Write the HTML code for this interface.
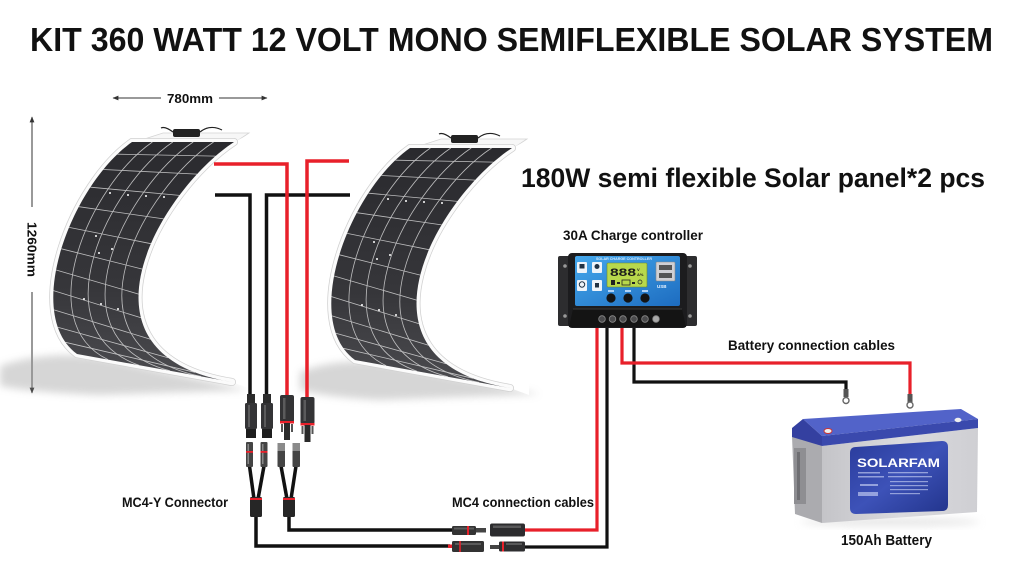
<!DOCTYPE html>
<html><head><meta charset="utf-8">
<style>
html,body{margin:0;padding:0;background:#fff;}
svg{display:block;}
text{font-family:"Liberation Sans","DejaVu Sans",sans-serif;font-weight:bold;fill:#111;}
</style></head>
<body>
<svg width="1024" height="576" viewBox="0 0 1024 576" xmlns="http://www.w3.org/2000/svg" xmlns:xlink="http://www.w3.org/1999/xlink">
<defs>
  <linearGradient id="cell" x1="0" y1="0" x2="0" y2="1">
    <stop offset="0" stop-color="#2a2a2e"/>
    <stop offset="0.6" stop-color="#36363a"/>
    <stop offset="1" stop-color="#4c4c50"/>
  </linearGradient>
  <linearGradient id="blue" x1="0" y1="0" x2="1" y2="1">
    <stop offset="0" stop-color="#45a8ec"/>
    <stop offset="1" stop-color="#1d6cc0"/>
  </linearGradient>
  <linearGradient id="lbl" x1="0" y1="0" x2="1" y2="1">
    <stop offset="0" stop-color="#2a3c9c"/>
    <stop offset="0.5" stop-color="#3d52b8"/>
    <stop offset="1" stop-color="#22348c"/>
  </linearGradient>
  <linearGradient id="body" x1="0" y1="0" x2="1" y2="0">
    <stop offset="0" stop-color="#c4c4c8"/>
    <stop offset="0.5" stop-color="#dadade"/>
    <stop offset="1" stop-color="#cfcfd3"/>
  </linearGradient>
  <filter id="blur" x="-20%" y="-50%" width="140%" height="200%"><feGaussianBlur stdDeviation="4"/></filter>
  <marker id="ah" viewBox="0 0 10 10" refX="9" refY="5" markerWidth="6" markerHeight="6" orient="auto-start-reverse">
    <path d="M0,1 L10,5 L0,9 Z" fill="#333"/>
  </marker>
  <g id="panel">
    <polygon points="163,133 249,133 234,143 132,143" fill="#f7f7f7" stroke="#d4d4d4" stroke-width="0.8"/>
    <path d="M234,142 C162,189 62,354 232,382 L251,389 L253,300 L250,134 Z" fill="#fff"/>
    <path d="M132,142 C72,184 22,314 77,354 L232,382 C62,354 162,189 234,142 Z" fill="none" stroke="#d0d0d0" stroke-width="8" stroke-linejoin="round"/>
    <path d="M132,142 C72,184 22,314 77,354 L232,382 C62,354 162,189 234,142 Z" fill="none" stroke="#fbfbfb" stroke-width="6.5" stroke-linejoin="round"/>
    <path d="M132,142 C72,184 22,314 77,354 L232,382 C62,354 162,189 234,142 Z" fill="url(#cell)"/>
    <g fill="none" stroke="#ececec" stroke-width="0.8" opacity="0.75">
      <path d="M152.4,142 C90,185 30,322 108,359.6"/>
      <path d="M172.8,142 C108,186 38,330 139,365.2"/>
      <path d="M193.2,142 C126,187 46,338 170,370.8"/>
      <path d="M213.6,142 C144,188 54,346 201,376.4"/>
      <path d="M117.3,154.2 L215.6,156.1"/>
      <path d="M103.3,169.5 L197.0,174.1"/>
      <path d="M90.4,187.2 L179.4,195.4"/>
      <path d="M78.8,206.7 L163.7,218.9"/>
      <path d="M69.1,227.4 L151.0,243.7"/>
      <path d="M61.4,248.8 L142.3,269.1"/>
      <path d="M56.1,270.0 L138.6,294.1"/>
      <path d="M53.5,290.6 L141.0,317.8"/>
      <path d="M54.0,309.9 L150.5,339.3"/>
      <path d="M57.8,327.3 L168.1,357.8"/>
      <path d="M65.4,342.3 L195.0,372.3"/>
    </g>
    <g fill="#fff">
      <circle cx="112" cy="249" r="1"/><circle cx="99" cy="253" r="1"/>
      <circle cx="84" cy="299" r="1"/><circle cx="101" cy="304" r="1"/>
      <circle cx="118" cy="309" r="1"/><circle cx="96" cy="236" r="1"/>
      <circle cx="110" cy="193" r="1"/><circle cx="128" cy="195" r="1"/>
      <circle cx="146" cy="196" r="1"/><circle cx="164" cy="197" r="1"/>
    </g>
    <path d="M173,132 q-8,-6 -12,-4" fill="none" stroke="#222" stroke-width="1.2"/>
    <path d="M200,132 q10,-8 22,-2" fill="none" stroke="#222" stroke-width="1.2"/>
    <rect x="173" y="129" width="27" height="8" rx="2" fill="#222"/>
  </g>
</defs>

<!-- Title -->
<text x="30" y="51" font-size="33" textLength="963" lengthAdjust="spacingAndGlyphs">KIT 360 WATT 12 VOLT MONO SEMIFLEXIBLE SOLAR SYSTEM</text>

<!-- dimension lines -->
<line x1="113" y1="98" x2="161" y2="98" stroke="#333" stroke-width="1" marker-start="url(#ah)"/>
<line x1="219" y1="98" x2="267" y2="98" stroke="#333" stroke-width="1" marker-end="url(#ah)"/>
<text x="167" y="103" font-size="12.5" textLength="46" lengthAdjust="spacingAndGlyphs">780mm</text>
<line x1="32" y1="117" x2="32" y2="207" stroke="#333" stroke-width="1" marker-start="url(#ah)"/>
<line x1="32" y1="292" x2="32" y2="393" stroke="#333" stroke-width="1" marker-end="url(#ah)"/>
<text transform="translate(27.5,222) rotate(90)" x="0" y="0" font-size="12.5" textLength="55" lengthAdjust="spacingAndGlyphs">1260mm</text>

<!-- shadows -->
<path d="M0,366 C40,352 90,352 130,364 L248,390 L100,395 C50,393 20,390 0,386 Z" fill="#9a9a9a" opacity="0.4" filter="url(#blur)"/>
<path d="M300,372 C330,360 370,358 410,368 L540,394 L380,400 C340,398 315,394 300,390 Z" fill="#9a9a9a" opacity="0.4" filter="url(#blur)"/>

<!-- panels -->
<use href="#panel" xlink:href="#panel"/>
<use href="#panel" xlink:href="#panel" transform="translate(278,6)"/>

<!-- top wires (black first) -->
<g fill="none" stroke-width="3.5" stroke-linejoin="miter">
  <path d="M215,195 H250 V396" stroke="#111"/>
  <path d="M350,195 H266.5 V396" stroke="#111"/>
  <path d="M214,164 H287 V396" stroke="#e8202a"/>
  <path d="M349,161 H307 V398" stroke="#e8202a"/>
</g>

<!-- top MC4 connectors -->
<g>
  <g transform="translate(251,0)">
    <rect x="-4" y="394" width="8" height="10" fill="#2b2b2b"/>
    <rect x="-6" y="403" width="12" height="26" rx="1.5" fill="#343436"/>
    <rect x="-3" y="405" width="2" height="22" fill="#777" opacity="0.6"/>
    <rect x="-5" y="429" width="10" height="9" fill="#1e1e1e"/>
  </g>
  <g transform="translate(267,0)">
    <rect x="-4" y="394" width="8" height="10" fill="#2b2b2b"/>
    <rect x="-6" y="403" width="12" height="26" rx="1.5" fill="#343436"/>
    <rect x="-3" y="405" width="2" height="22" fill="#777" opacity="0.6"/>
    <rect x="-5" y="429" width="10" height="9" fill="#1e1e1e"/>
  </g>
  <g transform="translate(287,0)">
    <rect x="-7" y="395" width="14" height="27" rx="2" fill="#333335"/>
    <rect x="-4" y="398" width="2.5" height="21" fill="#777" opacity="0.6"/>
    <rect x="-7" y="421" width="14" height="2.5" fill="#e8202a"/>
    <rect x="-3" y="423" width="6" height="17" fill="#2a2a2a"/>
    <rect x="-6" y="424" width="2" height="8" fill="#555"/>
    <rect x="4" y="424" width="2" height="8" fill="#555"/>
  </g>
  <g transform="translate(307.5,2)">
    <rect x="-7" y="395" width="14" height="27" rx="2" fill="#333335"/>
    <rect x="-4" y="398" width="2.5" height="21" fill="#777" opacity="0.6"/>
    <rect x="-7" y="421" width="14" height="2.5" fill="#e8202a"/>
    <rect x="-3" y="423" width="6" height="17" fill="#2a2a2a"/>
    <rect x="-6" y="424" width="2" height="8" fill="#555"/>
    <rect x="4" y="424" width="2" height="8" fill="#555"/>
  </g>
</g>

<!-- Y connector -->
<g>
  <g fill="none" stroke="#111" stroke-width="3.5">
    <path d="M249.5,466 L254,499"/>
    <path d="M264,466 L258,499"/>
    <path d="M281,466 L287,499"/>
    <path d="M296,466 L291,499"/>
    <path d="M256,515 V546 H450"/>
    <path d="M289,515 V530 H453"/>
  </g>
  <g>
    <rect x="246" y="442" width="7" height="25" rx="1" fill="#444"/>
    <rect x="247.5" y="444" width="1.5" height="20" fill="#888"/>
    <rect x="246" y="451" width="7" height="1.8" fill="#e8202a"/>
    <rect x="260.5" y="442" width="7" height="25" rx="1" fill="#444"/>
    <rect x="262" y="444" width="1.5" height="20" fill="#888"/>
    <rect x="260.5" y="451" width="7" height="1.8" fill="#e8202a"/>
    <rect x="277.5" y="443" width="7.5" height="24" rx="1" fill="#444"/>
    <rect x="277.5" y="443" width="7.5" height="8" fill="#8a8a8a"/>
    <rect x="292.5" y="443" width="7.5" height="24" rx="1" fill="#444"/>
    <rect x="292.5" y="443" width="7.5" height="8" fill="#8a8a8a"/>
    <rect x="250" y="497" width="12" height="20" rx="1.5" fill="#262626"/>
    <rect x="250" y="498" width="12" height="2" fill="#e8202a"/>
    <rect x="283" y="497" width="12" height="20" rx="1.5" fill="#262626"/>
    <rect x="283" y="498" width="12" height="2" fill="#e8202a"/>
  </g>
</g>

<!-- controller & battery wires -->
<g fill="none" stroke-width="3.2">
  <path d="M607,327 V547 H524" stroke="#111"/>
  <path d="M597,327 V530 H524" stroke="#e8202a"/>
  <path d="M634,326 V382 H846 V394" stroke="#111"/>
  <path d="M622,326 V363 H910 V398" stroke="#e8202a"/>
</g>
<!-- ring terminals -->
<g>
  <rect x="843.5" y="389" width="5" height="8" fill="#555"/>
  <circle cx="846" cy="400.5" r="3" fill="none" stroke="#666" stroke-width="1.4"/>
  <rect x="907.5" y="394" width="5" height="8" fill="#555"/>
  <circle cx="910" cy="405" r="3" fill="none" stroke="#666" stroke-width="1.4"/>
</g>

<!-- bottom MC4 connectors -->
<g>
  <rect x="448" y="544.5" width="5" height="3.5" fill="#e8202a"/>
  <rect x="452" y="526" width="24" height="9" rx="1.5" fill="#333"/>
  <rect x="454" y="527.5" width="20" height="2" fill="#777" opacity="0.6"/>
  <rect x="467" y="526" width="2" height="9" fill="#e8202a"/>
  <rect x="476" y="528" width="10" height="4.5" fill="#444"/>
  <rect x="490" y="523.5" width="35" height="13" rx="2" fill="#2c2c2e"/>
  <rect x="493" y="525.5" width="28" height="2.5" fill="#777" opacity="0.6"/>
  <rect x="452" y="541" width="32" height="11" rx="1.5" fill="#333"/>
  <rect x="455" y="543" width="26" height="2" fill="#777" opacity="0.6"/>
  <rect x="459" y="541" width="2" height="11" fill="#e8202a" opacity="0.8"/>
  <rect x="490" y="545" width="10" height="4" fill="#444"/>
  <rect x="499" y="541.5" width="26" height="10" rx="1.5" fill="#2e2e30"/>
  <rect x="502" y="541.5" width="2" height="10" fill="#e8202a"/>
  <rect x="506" y="543" width="16" height="2" fill="#777" opacity="0.6"/>
</g>

<!-- Charge controller -->
<g>
  <rect x="558" y="256" width="15" height="70" rx="2" fill="#2d2d2f"/>
  <rect x="682" y="256" width="15" height="70" rx="2" fill="#2d2d2f"/>
  <circle cx="565" cy="266" r="1.8" fill="#999"/>
  <circle cx="565" cy="316" r="1.8" fill="#999"/>
  <circle cx="690" cy="266" r="1.8" fill="#999"/>
  <circle cx="690" cy="316" r="1.8" fill="#999"/>
  <rect x="568" y="253" width="119" height="75" rx="4" fill="#1c1c1e"/>
  <rect x="575" y="256" width="105" height="50" rx="2" fill="url(#blue)"/>
  <text x="596" y="260" font-size="4" style="fill:#d8ecff" textLength="56" lengthAdjust="spacingAndGlyphs">SOLAR CHARGE CONTROLLER</text>
  <path d="M573,309 L682,309 L686,327 L569,327 Z" fill="#141414"/>
  <line x1="573" y1="309" x2="682" y2="309" stroke="#3a3a3a" stroke-width="1"/>
  <g fill="#4a4a4c" stroke="#8a8a8a" stroke-width="0.8">
    <circle cx="602" cy="319" r="3.3"/>
    <circle cx="612.5" cy="319" r="3.3"/>
    <circle cx="623" cy="319" r="3.3"/>
    <circle cx="634" cy="319" r="3.3"/>
    <circle cx="645" cy="319" r="3.3"/>
    <circle cx="656" cy="319" r="3.3" fill="#aaa"/>
  </g>
  <rect x="607" y="263" width="40" height="24" rx="1" fill="#b8d84c" stroke="#6d8a2a" stroke-width="0.6"/>
  <text x="610" y="276" font-size="11" style="fill:#1a1a1a" textLength="26" lengthAdjust="spacingAndGlyphs">888</text>
  <text x="637" y="271" font-size="4" style="fill:#1a1a1a">V</text>
  <text x="637" y="276" font-size="4" style="fill:#1a1a1a">A%</text>
  <rect x="611" y="280" width="4" height="5" fill="#222"/>
  <rect x="617" y="282" width="3" height="2" fill="#222"/>
  <rect x="622" y="280" width="8" height="5" fill="none" stroke="#222" stroke-width="0.8"/>
  <rect x="632" y="282" width="3" height="2" fill="#222"/>
  <circle cx="640" cy="282" r="2" fill="none" stroke="#222" stroke-width="0.7"/>
  <rect x="656" y="262" width="19" height="19" rx="1" fill="#d0d0d4" stroke="#888" stroke-width="0.6"/>
  <rect x="659" y="265" width="13" height="5" fill="#555"/>
  <rect x="659" y="273" width="13" height="5" fill="#555"/>
  <text x="657" y="288" font-size="4.5" style="fill:#e8f4ff">USB</text>
  <g>
    <rect x="577" y="262" width="10" height="11" rx="1" fill="#eef4fa"/>
    <rect x="579.5" y="264" width="5" height="4.5" fill="#234"/>
    <rect x="592" y="262" width="10" height="11" rx="1" fill="#eef4fa"/>
    <circle cx="597" cy="266.5" r="2.5" fill="#234"/>
    <rect x="577" y="280" width="10" height="11" rx="1" fill="#eef4fa"/>
    <circle cx="582" cy="284.5" r="2.7" fill="none" stroke="#234" stroke-width="1"/>
    <rect x="592" y="280" width="10" height="11" rx="1" fill="#eef4fa"/>
    <rect x="595" y="283" width="4" height="4.5" fill="#234"/>
  </g>
  <circle cx="611" cy="298" r="4.6" fill="#141414"/>
  <circle cx="628" cy="298" r="4.6" fill="#141414"/>
  <circle cx="645" cy="298" r="4.6" fill="#141414"/>
  <rect x="608" y="290" width="6" height="2" fill="#cfe6ff" opacity="0.8"/>
  <rect x="625" y="290" width="6" height="2" fill="#cfe6ff" opacity="0.8"/>
  <rect x="642" y="290" width="6" height="2" fill="#cfe6ff" opacity="0.8"/>
</g>

<!-- Battery -->
<g>
  <ellipse cx="890" cy="522" rx="90" ry="4" fill="#ccc" opacity="0.5" filter="url(#blur)"/>
  <polygon points="792,436 822,446 822,523 795,514" fill="#ababaf"/>
  <rect x="794" y="448" width="12" height="56" fill="#8e8e92"/>
  <rect x="797" y="452" width="3" height="48" fill="#6e6e72"/>
  <polygon points="822,446 978,428 977,512 822,523" fill="url(#body)"/>
  <polygon points="803,419 961,409 978,419 822,436" fill="#5263c9"/>
  <polygon points="822,436 978,419 978,428 822,446" fill="#3a49ad"/>
  <polygon points="792,428 803,419 822,436 822,446 792,437" fill="#3440a0"/>
  <ellipse cx="828" cy="431" rx="4" ry="2.5" fill="#eee" stroke="#c33" stroke-width="1"/>
  <ellipse cx="958" cy="420" rx="3.5" ry="2.2" fill="#eee"/>
  <path d="M856,447 L942,441 Q948,441 948,447 L948,505 Q948,511 942,511 L856,514 Q850,514 850,508 L850,453 Q850,447 856,447 Z" fill="url(#lbl)"/>
  <text x="857" y="467" font-size="11.5" style="fill:#fff" textLength="83" lengthAdjust="spacingAndGlyphs">SOLARFAM</text>
  <g fill="#dfe6ff" opacity="0.55">
    <rect x="858" y="472" width="22" height="1.5"/>
    <rect x="858" y="476" width="26" height="1.5"/>
    <rect x="860" y="484" width="18" height="2"/>
    <rect x="888" y="472" width="40" height="1.3"/>
    <rect x="888" y="476" width="44" height="1.3"/>
    <rect x="890" y="481" width="38" height="1.2"/>
    <rect x="890" y="485" width="38" height="1.2"/>
    <rect x="890" y="489" width="38" height="1.2"/>
    <rect x="890" y="493" width="30" height="1.2"/>
    <rect x="858" y="492" width="20" height="4"/>
  </g>
</g>

<!-- Labels -->
<text x="521" y="187" font-size="27" textLength="464" lengthAdjust="spacingAndGlyphs">180W semi flexible Solar panel*2 pcs</text>
<text x="563" y="240" font-size="13.5" textLength="140" lengthAdjust="spacingAndGlyphs">30A Charge controller</text>
<text x="728" y="350" font-size="13.5" textLength="167" lengthAdjust="spacingAndGlyphs">Battery connection cables</text>
<text x="452" y="507" font-size="13.5" textLength="142" lengthAdjust="spacingAndGlyphs">MC4 connection cables</text>
<text x="122" y="507" font-size="13.5" textLength="106" lengthAdjust="spacingAndGlyphs">MC4-Y Connector</text>
<text x="841" y="545" font-size="14.5" textLength="91" lengthAdjust="spacingAndGlyphs">150Ah Battery</text>
</svg>
</body></html>
